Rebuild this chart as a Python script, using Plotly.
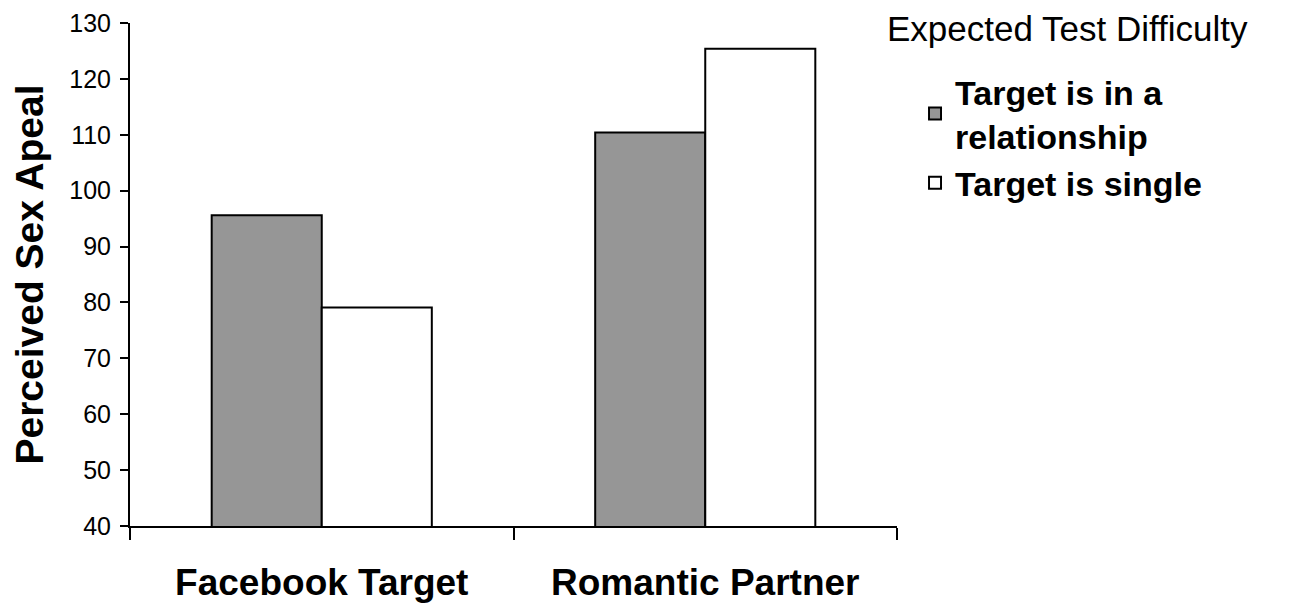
import plotly.graph_objects as go

categories = ["Facebook Target", "Romantic Partner"]
series_names = ["Target is in a<br>relationship", "Target is single"]
relationship_vals = [95.6, 110.4]
single_vals = [79.1, 125.4]
y_ticks = [40, 50, 60, 70, 80, 90, 100, 110, 120, 130]
legend_title = "Expected Test Difficulty"

FONT = "Liberation Sans, Arial, sans-serif"

fig = go.Figure()
fig.add_trace(go.Bar(
    x=categories, y=relationship_vals, name=series_names[0],
    marker=dict(color="#969696", line=dict(color="black", width=2)),
))
fig.add_trace(go.Bar(
    x=categories, y=single_vals, name=series_names[1],
    marker=dict(color="white", line=dict(color="black", width=2)),
))

fig.add_annotation(
    text=legend_title, xref="paper", yref="paper", x=0.9844, y=0.9895,
    xanchor="left", yanchor="middle", showarrow=False,
    font=dict(size=35, family=FONT, color="black"),
)

fig.update_layout(
    width=1290, height=604,
    paper_bgcolor="white", plot_bgcolor="white",
    margin=dict(l=122, r=401, t=15, b=86, autoexpand=False),
    barmode="group", bargap=0.426, bargroupgap=0,
    font=dict(family=FONT, color="black"),
    showlegend=True,
    legend=dict(
        x=0.9844, y=0.921, xanchor="left", yanchor="top",
        font=dict(size=34, family=FONT, weight="bold"),
        indentation=30,
        traceorder="normal",
        bgcolor="rgba(0,0,0,0)",
    ),
    xaxis=dict(
        showline=True, linecolor="black", linewidth=2,
        ticks="outside", tickson="boundaries", ticklen=12, tickwidth=2, tickcolor="black",
        tickfont=dict(size=37, family=FONT, weight="bold"),
        ticklabelstandoff=23,
        showgrid=False, zeroline=False, automargin=False,
    ),
    yaxis=dict(
        range=[40, 130], tickvals=y_ticks,
        showline=True, linecolor="black", linewidth=2,
        ticks="outside", ticklen=8, tickwidth=2, tickcolor="black",
        tickfont=dict(size=25, family=FONT),
        ticklabelstandoff=4,
        title=dict(text="Perceived Sex Apeal", font=dict(size=39, family=FONT, weight="bold"), standoff=18),
        showgrid=False, zeroline=False, automargin=False,
    ),
)

fig.write_html("out.html")
